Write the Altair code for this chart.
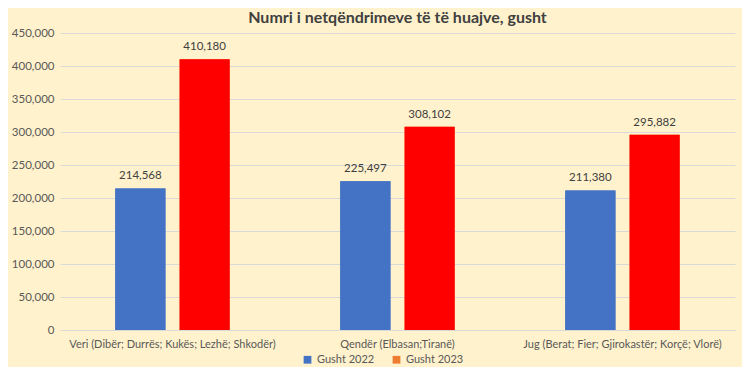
import altair as alt
import pandas as pd

categories = [
    "Veri (Dibër; Durrës; Kukës; Lezhë; Shkodër)",
    "Qendër (Elbasan;Tiranë)",
    "Jug (Berat; Fier; Gjirokastër; Korçë; Vlorë)",
]
series = ["Gusht 2022", "Gusht 2023"]
values_2022 = [214568, 225497, 211380]
values_2023 = [410180, 308102, 295882]
bar_colors = ["#4472C4", "#FF0000"]
legend_colors = ["#4472C4", "#ED7D31"]

rows = []
for c, a, b in zip(categories, values_2022, values_2023):
    rows.append({"cat": c, "series": series[0], "value": a})
    rows.append({"cat": c, "series": series[1], "value": b})
df = pd.DataFrame(rows)

FONT = "Lato"

x = alt.X("cat:N", sort=categories, title=None,
          scale=alt.Scale(paddingInner=0, paddingOuter=0),
          axis=alt.Axis(labelAngle=0, labelLimit=400, labelPadding=8, ticks=False,
                        domain=True, domainColor="#D9D9D9", labelColor="#595959",
                        labelFontSize=11, labelFont=FONT))
xo = alt.XOffset("series:N", sort=series,
                 scale=alt.Scale(paddingInner=0.22, paddingOuter=0.86))
y = alt.Y("value:Q", title=None,
          scale=alt.Scale(domain=[0, 450000], nice=False),
          axis=alt.Axis(values=list(range(0, 450001, 50000)), format=",d", ticks=False,
                        domain=False, gridColor="#D9D9D9", labelColor="#595959",
                        labelFontSize=11.5, labelFont=FONT, labelPadding=6))

base = alt.Chart(df).encode(x=x, xOffset=xo, y=y)

legend_bars = base.mark_bar().encode(
    fill=alt.Fill("series:N", sort=series,
                  scale=alt.Scale(domain=series, range=legend_colors),
                  legend=alt.Legend(title=None, orient="none", direction="horizontal",
                                    legendX=242, legendY=321, symbolType="square",
                                    symbolSize=60, labelFontSize=11, labelFont=FONT,
                                    labelColor="#595959", columnPadding=16)),
)

bars = base.mark_bar().encode(
    color=alt.Color("series:N", sort=series,
                    scale=alt.Scale(domain=series, range=bar_colors),
                    legend=None),
)

labels = base.mark_text(baseline="bottom", dy=-7, fontSize=11.5, font=FONT, color="#404040").encode(
    text=alt.Text("value:Q", format=",d")
)

chart = (legend_bars + bars + labels).properties(
    width=675, height=297,
    title=alt.TitleParams("Numri i netqëndrimeve të të huajve, gusht", fontSize=16,
                          font=FONT, fontWeight="bold", color="#404040",
                          anchor="middle", offset=1),
    autosize=alt.AutoSizeParams(type="none"),
    padding={"left": 52, "top": 25, "right": 7, "bottom": 37},
    background="#FFF2CC",
).configure_view(stroke=None)

chart.save("out.html", embed_options={"renderer": "svg", "actions": False})
